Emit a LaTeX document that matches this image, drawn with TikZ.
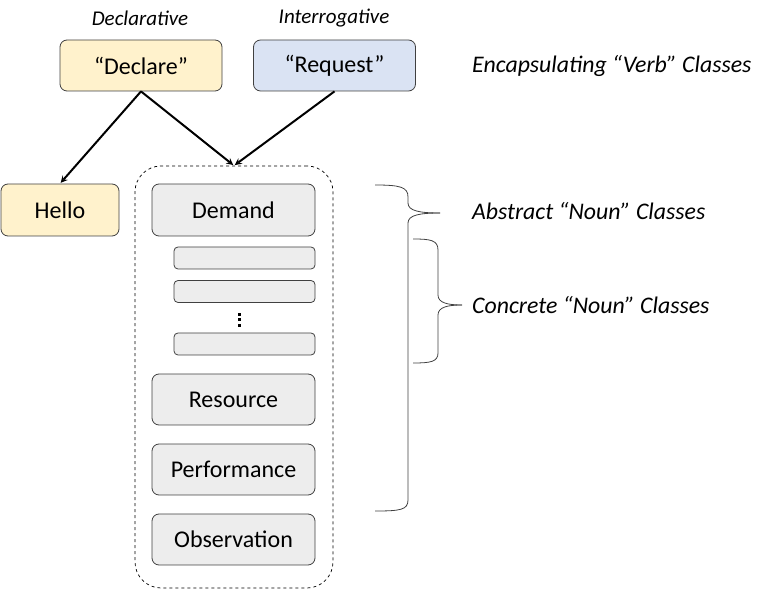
\documentclass[tikz,border=0pt]{standalone}
\usepackage{fontspec}
\setmainfont{Carlito}
\usepackage{tikz}
\usetikzlibrary{arrows}

\definecolor{giallo}{HTML}{FFF2CC}
\definecolor{azzurro}{HTML}{DAE3F3}
\definecolor{grigio}{HTML}{EDEDED}
\definecolor{bordo}{HTML}{404040}

\begin{document}
\begin{tikzpicture}[x=1pt, y=-1pt,
  box/.style={draw=bordo, line width=0.8pt, rounded corners=7pt, align=center,
    inner sep=0pt, font=\fontsize{24}{28}\selectfont},
  verbbox/.style={box, minimum width=162pt, minimum height=51pt},
  nounbox/.style={box, fill=grigio, minimum width=163pt, minimum height=51pt},
  stubbox/.style={box, fill=grigio, rounded corners=4pt, minimum width=141pt, minimum height=22pt},
  etichetta/.style={font=\fontsize{21}{24}\selectfont\itshape, inner sep=0pt},
  nota/.style={font=\fontsize{23.8}{28}\selectfont\itshape, inner sep=0pt, anchor=west},
  freccia/.style={-stealth, line width=2pt, shorten >=1pt},
  graffa/.style={line width=0.8pt, bordo}]

\useasboundingbox (0,0) rectangle (761,601);

% Verbi
\node[verbbox, fill=giallo] (declare) at (141,65.5) {“Declare”};
\node[verbbox, fill=azzurro] (request) at (334.5,65.5) {“Request”};
\node[etichetta] (decl) at (140,18) {Declarative};
\node[etichetta] (interr) at (334,18) {Interrogative};

% Hello
\node[box, fill=giallo, minimum width=118pt, minimum height=52pt] (hello) at (60,210) {Hello};

% Contenitore
\node[draw, dashed, line width=0.7pt, rounded corners=26pt,
  minimum width=198pt, minimum height=422pt] (contenitore) at (234,377) {};

% Nomi
\node[nounbox, minimum height=52pt] (demand) at (233.5,210) {Demand};
\node[stubbox] (s1) at (244.5,258) {};
\node[stubbox] (s2) at (244.5,291.5) {};
\node[stubbox] (s3) at (244.5,344) {};
\fill (237.5,313) rectangle (240.5,316);
\fill (237.5,318.5) rectangle (240.5,321.5);
\fill (237.5,324) rectangle (240.5,327);
\node[nounbox] (resource) at (233.5,399.5) {Resource};
\node[nounbox] (performance) at (233.5,469.5) {Performance};
\node[nounbox] (observation) at (233.5,539.5) {Observation};

% Frecce
\draw[freccia] (declare.south) -- (hello.north);
\draw[freccia] (declare.south) -- (contenitore.north);
\draw[freccia] (request.south) -- (contenitore.north);

% Graffe
\coordinate (puntaA) at (440,213);
\coordinate (puntaC) at (462,305);
\draw[graffa] (375,185) .. controls (400,185) and (408,187) .. (408,197)
  -- (408,203) .. controls (408,211) and (420,213) .. (puntaA);
\draw[graffa] (puntaA) .. controls (420,213) and (408,215) .. (408,223)
  -- (408,500) .. controls (408,510) and (400,511) .. (375,511);
\draw[graffa] (413,239) .. controls (430,239) and (438,240) .. (438,250)
  -- (438,295) .. controls (438,303) and (448,305) .. (puntaC);
\draw[graffa] (puntaC) .. controls (448,305) and (438,307) .. (438,315)
  -- (438,353) .. controls (438,362) and (430,363) .. (413,363);

% Note
\node[nota] (verbi) at (472,66) {Encapsulating “Verb” Classes};
\node[nota] (astratti) at (472,211) {Abstract “Noun” Classes};
\node[nota] (concreti) at (472,305) {Concrete “Noun” Classes};

\end{tikzpicture}
\end{document}
